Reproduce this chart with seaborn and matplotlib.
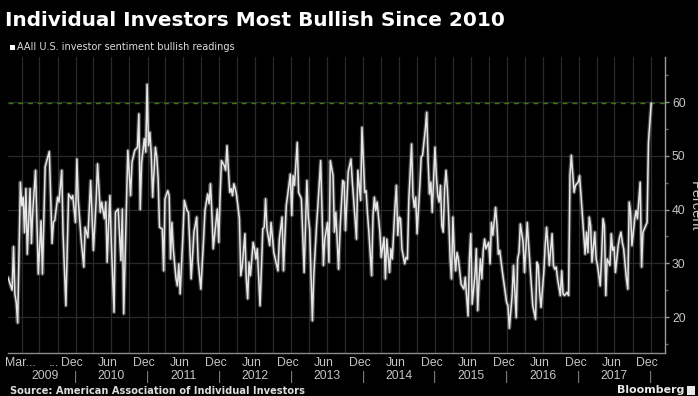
import numpy as np
import pandas as pd
import matplotlib
matplotlib.use("Agg")
import matplotlib.pyplot as plt
import matplotlib.transforms as mtransforms
import matplotlib.patheffects as pe
from matplotlib.patches import Rectangle
import seaborn as sns

# ---------------- data (weekly AAII readings, week index from start_date) ----------------
start_date = "2009-01-22"

weeks_a = [0, 3, 4, 5, 6, 7, 9, 10, 11, 12, 13, 14, 16, 17, 18, 20, 22, 24, 25, 27, 30, 32, 33, 34,
           36, 37, 39, 40, 42, 44, 46, 47, 49, 50, 51, 53, 55, 56, 58, 60, 62, 64, 65, 67, 68, 70,
           71, 72, 73, 74, 75, 77, 78, 80, 82, 83, 84, 87, 89, 90, 92, 94]
bullish_a = [27.4, 25.0, 33.1, 24.3, 22.7, 18.9, 45.1, 40.7, 42.3, 35.7, 43.9, 31.7, 43.9, 33.7,
             39.8, 47.3, 28.0, 37.9, 28.0, 48.0, 50.8, 33.7, 37.7, 38.0, 42.3, 41.4, 47.3, 35.4,
             22.1, 42.9, 42.0, 42.6, 37.6, 49.4, 41.7, 34.8, 29.3, 36.7, 34.8, 45.4, 32.4, 41.7,
             48.5, 39.5, 41.4, 38.3, 41.4, 30.2, 37.0, 42.6, 33.9, 20.9, 39.5, 40.1, 30.5, 40.1,
             20.6, 51.0, 42.6, 48.8, 51.0, 51.6]

weeks_b = [95, 96, 97, 99, 100, 101, 102, 103, 104, 105, 107, 108, 109, 110, 112, 113, 114, 116,
           117, 118, 119, 120, 122, 123, 124, 125, 127, 128, 130, 131, 133, 135, 137, 138, 140,
           142, 143, 145, 146, 147, 148, 149, 150, 152, 153, 154, 155, 157, 158, 159, 161, 162,
           163, 164, 165, 166, 168, 169, 170, 172, 173, 174, 175, 176, 178, 179, 180, 181, 183,
           185, 186, 187]
bullish_b = [57.8, 40.0, 48.8, 53.2, 50.7, 63.3, 51.9, 54.4, 50.4, 42.3, 51.6, 49.8, 45.7, 36.7,
             36.4, 28.6, 42.0, 43.5, 42.6, 30.8, 37.6, 32.7, 27.1, 25.8, 29.9, 24.3, 35.2, 41.7,
             39.8, 39.5, 27.1, 35.8, 38.6, 30.5, 25.2, 34.5, 39.8, 42.9, 41.1, 44.8, 39.5, 32.7,
             35.2, 40.1, 33.9, 42.6, 49.1, 48.2, 47.3, 51.9, 43.2, 43.9, 42.6, 44.8, 43.9, 42.6,
             38.3, 27.7, 29.3, 35.5, 27.1, 23.4, 30.2, 27.7, 33.9, 32.7, 30.8, 32.7, 22.1, 36.4,
             36.7, 42.0]

weeks_c = [188, 190, 191, 193, 196, 197, 199, 200, 202, 203, 205, 206, 207, 208, 210, 211, 213,
           215, 217, 218, 219, 221, 222, 224, 225, 227, 228, 229, 230, 232, 233, 234, 236, 237,
           238, 240, 241, 243, 244, 245, 247, 249, 250, 251, 253, 254, 256, 257, 259, 260, 261,
           262, 264, 265, 266, 267, 268, 270, 271, 273, 274, 275, 277, 278, 279, 281, 282]
bullish_c = [36.4, 33.3, 37.6, 32.0, 28.6, 34.5, 38.6, 28.6, 40.7, 42.6, 46.6, 38.9, 46.3, 44.5,
             52.5, 43.2, 42.0, 28.3, 45.4, 38.6, 36.4, 19.3, 27.7, 37.0, 40.7, 49.1, 39.5, 29.6,
             34.5, 37.6, 30.2, 49.1, 46.3, 35.8, 39.5, 28.9, 35.8, 45.4, 45.1, 36.1, 47.0, 49.4,
             45.1, 41.7, 34.5, 47.3, 41.7, 55.3, 43.2, 43.5, 39.2, 35.8, 27.7, 38.9, 42.3, 39.8,
             41.4, 35.8, 31.1, 34.8, 27.1, 34.5, 28.3, 32.7, 30.8, 40.7, 44.5]

weeks_d = [283, 284, 285, 286, 288, 289, 290, 291, 293, 294, 295, 296, 297, 299, 300, 301, 303,
           304, 305, 306, 307, 308, 310, 311, 312, 313, 314, 315, 316, 317, 318, 319, 320, 321,
           322, 323, 324, 325, 326, 327, 329, 331, 332, 334, 335, 336, 337, 339, 340, 341, 342,
           343, 344, 345, 346, 347, 349, 350, 351, 352, 354, 355, 356, 357, 359, 360, 361, 362,
           363, 364, 366, 367, 369, 370, 371, 372, 374, 375, 377]
bullish_d = [35.2, 38.6, 38.3, 32.7, 29.9, 31.1, 30.8, 41.7, 52.2, 42.6, 40.4, 42.3, 35.5, 44.5,
             49.8, 50.1, 55.0, 58.1, 49.1, 42.9, 45.1, 39.5, 51.6, 46.3, 42.6, 41.4, 44.5, 37.0,
             35.8, 43.9, 47.3, 43.9, 38.3, 30.8, 27.1, 38.6, 32.0, 28.6, 32.0, 30.8, 26.1, 25.2,
             27.4, 20.2, 30.8, 35.5, 22.4, 27.7, 32.7, 21.2, 26.8, 30.8, 27.1, 32.4, 34.5, 32.7,
             33.9, 29.9, 37.6, 35.2, 40.4, 37.0, 31.7, 32.4, 28.3, 26.5, 24.6, 22.7, 22.1, 17.9,
             24.0, 29.6, 19.9, 30.8, 32.0, 37.3, 33.9, 28.3, 37.6]

weeks_e = [378, 380, 381, 383, 384, 385, 386, 387, 389, 390, 391, 392, 393, 395, 396, 397, 398,
           399, 401, 402, 403, 404, 406, 407, 408, 409, 411, 412, 414, 415, 419, 420, 421, 422,
           423, 424, 426, 427, 428, 430, 431, 432, 433, 434, 435, 437, 438, 439, 440, 441, 443,
           444, 445, 446, 447, 449, 450, 451, 452, 453, 455, 456, 457, 459, 460, 461, 462, 464,
           465, 467]
bullish_e = [33.3, 25.8, 22.1, 19.6, 30.2, 29.6, 24.6, 21.8, 28.3, 33.3, 36.7, 33.3, 29.6, 35.5,
             29.6, 28.9, 29.3, 27.1, 24.0, 28.6, 24.3, 24.0, 24.6, 24.0, 46.3, 50.1, 43.2, 44.5,
             45.1, 46.3, 31.7, 35.8, 32.0, 38.6, 37.0, 30.2, 35.8, 30.8, 29.6, 25.8, 31.4, 38.3,
             37.0, 24.0, 30.8, 29.6, 35.5, 32.4, 33.0, 28.3, 33.3, 34.8, 35.8, 33.9, 32.7, 27.1,
             25.2, 41.4, 39.5, 33.3, 38.3, 39.8, 38.3, 45.1, 29.3, 35.8, 36.4, 37.6, 52.5, 59.8]

y_ticks = [20, 30, 40, 50, 60]
title = "Individual Investors Most Bullish Since 2010"
subtitle = "AAII U.S. investor sentiment bullish readings"
source = "Source: American Association of Individual Investors"

weeks = weeks_a + weeks_b + weeks_c + weeks_d + weeks_e
bullish = bullish_a + bullish_b + bullish_c + bullish_d + bullish_e
df = pd.DataFrame({
    "date": pd.Timestamp(start_date) + pd.to_timedelta(np.array(weeks) * 7, unit="D"),
    "bullish": bullish,
})

# ---------------- style ----------------
sns.set_theme(style="dark", rc={
    "figure.facecolor": "black", "axes.facecolor": "black",
    "savefig.facecolor": "black", "text.color": "white",
})
TICKF = "Liberation Sans"
TICKC = "#c4c4c4"
GRIDC = "#2a2a2a"

fig = plt.figure(figsize=(6.98, 3.96), dpi=100)
W, H = 698, 396
ax = fig.add_axes([8 / W, 1 - 353 / H, 657 / W, 296 / H])
ax.set_facecolor("black")

# gridlines
ax.set_ylim(13.3, 68.4)
ax.set_xlim(pd.Timestamp("2009-01-22"), pd.Timestamp("2018-03-15"))
for q in pd.date_range("2009-04-01", "2018-01-01", freq="QS"):
    ax.axvline(q, color=GRIDC, lw=0.9, zorder=0)
for yv in y_ticks:
    ax.axhline(yv, color=GRIDC, lw=0.9, zorder=0)

# dashed reference line at the latest reading
ax.axhline(bullish[-1], color="#3c7a12", lw=1.0, ls=(0, (3.5, 3.5)), zorder=1)

sns.lineplot(data=df, x="date", y="bullish", ax=ax, color="#e6e6e6", lw=1.1,
             zorder=3,
             path_effects=[pe.Stroke(linewidth=2.8, foreground="#7a7a7a", alpha=0.55),
                           pe.Normal()])

# axes/spines
for s in ["top", "left"]:
    ax.spines[s].set_visible(False)
ax.spines["right"].set_color("#9a9a9a")
ax.spines["right"].set_linewidth(1.0)
ax.spines["bottom"].set_color("#8a8a8a")
ax.spines["bottom"].set_linewidth(1.0)
ax.set_xlabel("")
ax.set_ylabel("")
ax.grid(False)

# y axis on the right
ax.yaxis.tick_right()
ax.set_yticks(y_ticks)
ax.set_yticklabels([str(v) for v in y_ticks], fontfamily=TICKF, fontsize=8.8, color=TICKC)
ax.set_yticks([15, 25, 35, 45, 55, 65], minor=True)
ax.tick_params(axis="y", which="major", length=3, width=1, color="#9a9a9a", pad=2)
ax.tick_params(axis="y", which="minor", length=2, width=1, color="#6a6a6a")
fig.text(694.5 / W, 1 - 206 / H, "Percent", rotation=270, ha="center", va="center",
         fontfamily=TICKF, fontsize=10.5, color=TICKC)

# x axis labels
lab_dates = [pd.Timestamp("2009-03-25"), pd.Timestamp("2009-09-12")]
lab_text = ["Mar...", "..."]
for yr in range(2009, 2018):
    if yr > 2009:
        lab_dates.append(pd.Timestamp(f"{yr}-06-15"))
        lab_text.append("Jun")
    lab_dates.append(pd.Timestamp(f"{yr}-12-15"))
    lab_text.append("Dec")
ax.set_xticks(lab_dates)
ax.set_xticklabels(lab_text, fontfamily=TICKF, fontsize=8.8, color=TICKC)
ax.tick_params(axis="x", which="major", length=0, pad=3)
ax.set_xticks(pd.date_range("2009-02-01", "2018-03-01", freq="MS"), minor=True)
ax.tick_params(axis="x", which="minor", length=2, width=0.8, color="#6a6a6a")

tr = mtransforms.blended_transform_factory(ax.transData, fig.transFigure)
for yr in range(2009, 2018):
    xc = pd.Timestamp("2009-08-01") if yr == 2009 else pd.Timestamp(f"{yr}-07-01")
    ax.text(xc, 1 - 376 / H, str(yr), transform=tr, ha="center", va="center",
            fontfamily=TICKF, fontsize=8.8, color=TICKC, clip_on=False)
for yr in range(2010, 2019):
    ax.text(pd.Timestamp(f"{yr}-01-01"), 1 - 377 / H, "|", transform=tr, ha="center",
            va="center", fontfamily=TICKF, fontsize=9, color="#8a8a8a", clip_on=False)

# titles and notes
fig.text(5 / W, 1 - 20 / H, title, ha="left", va="center", fontsize=14.4,
         fontweight="bold", color="white", fontfamily="DejaVu Sans")
fig.patches.append(Rectangle((10 / W, 1 - 50 / H), 5 / W, 5 / H, transform=fig.transFigure,
                             facecolor="white", edgecolor="none"))
fig.text(17 / W, 1 - 47.5 / H, subtitle, ha="left", va="center", fontsize=7.0,
         color="#dddddd", fontfamily="DejaVu Sans")
fig.text(10 / W, 1 - 391 / H, source, ha="left", va="center", fontsize=7.1,
         fontweight="bold", color="#dddddd", fontfamily="DejaVu Sans")
fig.text(684 / W, 1 - 390 / H, "Bloomberg", ha="right", va="center", fontsize=7.9,
         fontweight="bold", color="#e8e8e8", fontfamily="DejaVu Sans")
fig.patches.append(Rectangle((687 / W, 1 - 395 / H), 8 / W, 9 / H, transform=fig.transFigure,
                             facecolor="#e8e8e8", edgecolor="none"))

fig.savefig("out.png", dpi=100, facecolor="black")
